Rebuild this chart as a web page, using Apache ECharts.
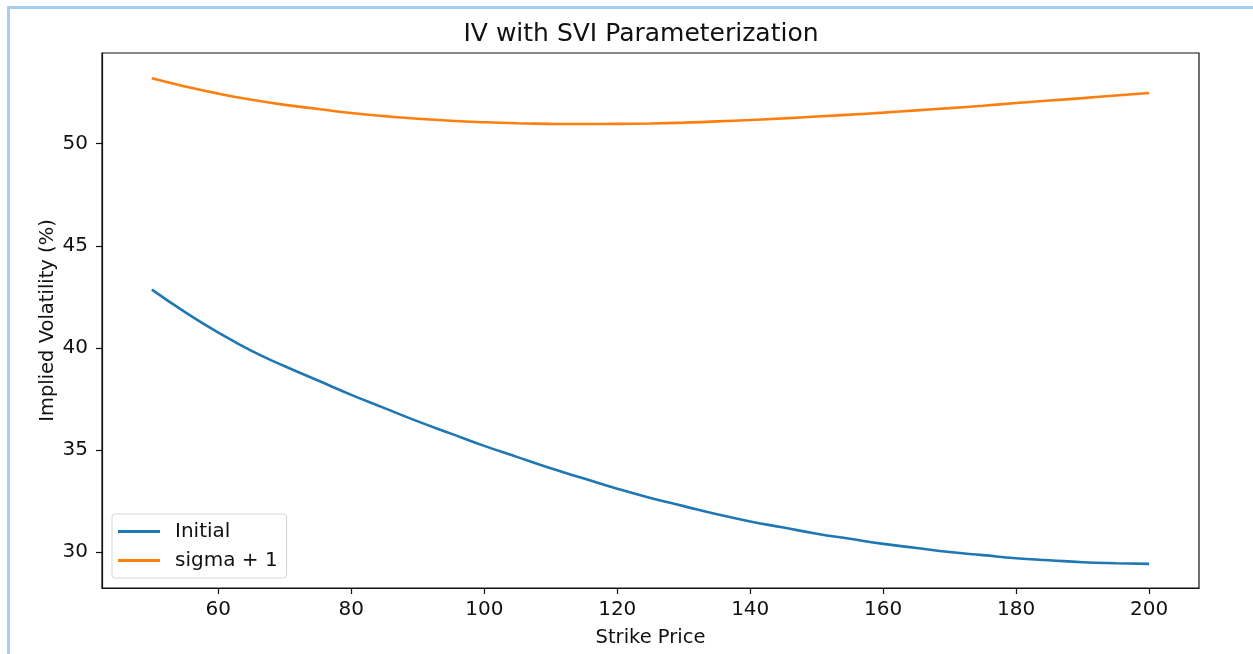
<!DOCTYPE html>
<html>
<head>
    <meta charset="utf-8" />
    <title>IV with SVI Parameterization</title>
    <style>
        html, body { margin: 0; padding: 0; background: #fff; }
        #linechart { width: 1253px; height: 654px; }
    </style>
</head>
<body>
    <div id="linechart"></div>
    <script src="https://cdn.jsdelivr.net/npm/echarts@6/dist/echarts.min.js"></script>
    <script>
        // strike prices (x) and the two IV curves
        var strikes = [50, 55, 60, 65, 70, 75, 80, 85, 90, 95, 100, 105, 110, 115, 120, 125,
            130, 135, 140, 145, 150, 155, 160, 165, 170, 175, 180, 185, 190, 195, 200];
        var initialIV = [42.85, 41.75, 40.75, 39.85, 39.1, 38.4, 37.7, 37.05, 36.4, 35.8, 35.2,
            34.65, 34.1, 33.6, 33.1, 32.65, 32.25, 31.85, 31.5, 31.2, 30.9, 30.65, 30.4, 30.2,
            30.0, 29.85, 29.7, 29.6, 29.5, 29.45, 29.42];
        var sigmaIV = [53.2, 52.8, 52.45, 52.15, 51.9, 51.7, 51.5, 51.35, 51.22, 51.12, 51.05,
            51.0, 50.97, 50.96, 50.97, 50.99, 51.03, 51.09, 51.16, 51.24, 51.33, 51.42, 51.52,
            51.63, 51.74, 51.86, 51.99, 52.11, 52.23, 52.36, 52.48];
        var xTicks = [60, 80, 100, 120, 140, 160, 180, 200];
        var yTicks = [30, 35, 40, 45, 50];

        function pairs(ys) {
            return strikes.map(function (x, i) { return [x, ys[i]]; });
        }

        var font = 'DejaVu Sans';

        option = {
            backgroundColor: '#fff',
            animation: false,
            title: {
                text: 'IV with SVI Parameterization',
                left: 636,
                textAlign: 'center',
                top: 17,
                textStyle: { fontFamily: font, fontSize: 25, fontWeight: 'normal', color: '#111' }
            },
            graphic: [
                { type: 'line', shape: { x1: 8, y1: 7.5, x2: 1253, y2: 7.5 }, style: { stroke: '#a6cdf2', lineWidth: 3 } },
                { type: 'line', shape: { x1: 8.5, y1: 6, x2: 8.5, y2: 654 }, style: { stroke: '#a6cdf2', lineWidth: 3 } }
            ],
            legend: {
                data: ['Initial', 'sigma + 1'],
                orient: 'vertical',
                left: 112,
                top: 514,
                padding: [6, 9, 6, 6],
                itemGap: 6,
                itemWidth: 42,
                itemHeight: 3,
                icon: 'rect',
                backgroundColor: 'rgba(255,255,255,0.8)',
                borderColor: '#d6d6d6',
                borderWidth: 1,
                borderRadius: 3,
                textStyle: { fontFamily: font, fontSize: 20, color: '#111', lineHeight: 23, padding: [0, 0, 0, 10] }
            },
            grid: {
                left: 102,
                right: 54,
                top: 53,
                bottom: 66,
                outerBoundsMode: 'none',
                show: true,
                borderColor: '#111',
                borderWidth: 1.2,
                backgroundColor: 'transparent'
            },
            xAxis: {
                type: 'value',
                min: 42.5,
                max: 207.5,
                name: 'Strike Price',
                nameLocation: 'middle',
                nameGap: 40,
                nameMoveOverlap: false,
                nameTextStyle: { fontFamily: font, fontSize: 19.5, color: '#111' },
                axisLine: { show: true, lineStyle: { color: '#111', width: 1.2 } },
                axisTick: { show: true, inside: false, length: 6, customValues: xTicks, lineStyle: { color: '#111', width: 1.2 } },
                axisLabel: { customValues: xTicks, margin: 12, fontFamily: font, fontSize: 20, color: '#111' },
                splitLine: { show: false }
            },
            yAxis: {
                type: 'value',
                min: 28.24,
                max: 54.44,
                name: 'Implied Volatility (%)',
                nameLocation: 'middle',
                nameGap: 44,
                nameMoveOverlap: false,
                nameTextStyle: { fontFamily: font, fontSize: 19.5, color: '#111' },
                axisLine: { show: true, lineStyle: { color: '#111', width: 1.2 } },
                axisTick: { show: true, inside: false, length: 6, customValues: yTicks, lineStyle: { color: '#111', width: 1.2 } },
                axisLabel: { customValues: yTicks, margin: 14, fontFamily: font, fontSize: 20, color: '#111' },
                splitLine: { show: false }
            },
            series: [{
                name: 'Initial',
                type: 'line',
                data: pairs(initialIV),
                smooth: true,
                symbol: 'none',
                color: '#1f77b4',
                lineStyle: { width: 2.6, color: '#1f77b4' }
            }, {
                name: 'sigma + 1',
                type: 'line',
                data: pairs(sigmaIV),
                smooth: true,
                symbol: 'none',
                color: '#ff7f0e',
                lineStyle: { width: 2.6, color: '#ff7f0e' }
            }]
        };

        var lineChart = echarts.init(document.getElementById('linechart'));
        lineChart.setOption(option);
    </script>
</body>
</html>
